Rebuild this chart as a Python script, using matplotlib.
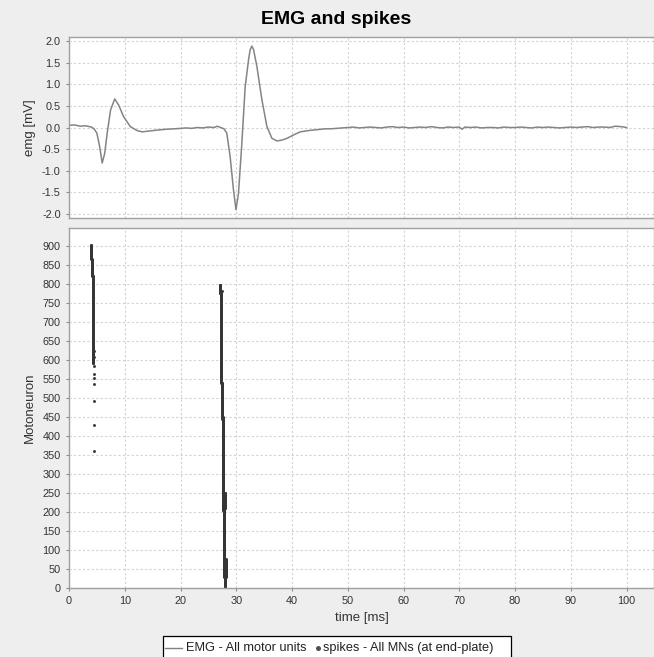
import numpy as np
import matplotlib
matplotlib.use("Agg")
import matplotlib.pyplot as plt
from matplotlib.lines import Line2D
from matplotlib.patches import Rectangle

# ---------------- data ----------------
emg_t = [0, 1, 2, 3, 4, 4.5, 5.0, 5.5, 5.95, 6.4, 6.85, 7.45, 8.2, 8.9, 9.8,
         11.0, 12.2, 13.1, 14.5, 15.8, 17.5, 19, 20, 21, 22, 23, 24, 25, 26,
         26.6, 27.2, 27.8, 28.3, 28.9, 29.5, 29.95, 30.4, 31.0, 31.6, 32.2,
         32.5, 32.8, 33.1, 33.7, 34.6, 35.5, 36.4, 37.3, 38.2, 39.1, 40.3,
         41.5, 43, 44.5, 46, 47, 48, 49, 50, 51, 52, 53, 54, 55, 56, 57, 58,
         59, 60, 61, 62, 63, 64, 65, 66, 67, 68, 69, 70, 70.5, 71, 72, 73, 74,
         75, 76, 77, 78, 79, 80, 81, 82, 83, 84, 85, 86, 87, 88, 89, 90, 91,
         92, 93, 94, 95, 96, 97, 98, 99, 100]
emg_v = [0.05, 0.06, 0.03, 0.04, 0.01, -0.03, -0.13, -0.44, -0.82, -0.60,
         -0.13, 0.40, 0.66, 0.52, 0.25, 0.02, -0.07, -0.10, -0.08, -0.06,
         -0.04, -0.03, -0.02, -0.01, -0.02, 0.0, -0.01, 0.01, 0.0, 0.03, 0.0,
         -0.03, -0.13, -0.67, -1.44, -1.90, -1.52, -0.37, 0.94, 1.56, 1.80,
         1.88, 1.80, 1.41, 0.64, 0.02, -0.25, -0.31, -0.29, -0.25, -0.17,
         -0.10, -0.07, -0.05, -0.03, -0.03, -0.02, -0.01, 0.0, 0.01, -0.01,
         0.0, 0.01, 0.0, -0.01, 0.01, 0.02, 0.0, 0.01, -0.01, 0.0, 0.01, 0.0,
         0.02, 0.0, -0.01, 0.01, 0.0, 0.01, -0.04, 0.01, 0.0, 0.01, -0.01,
         0.0, 0.0, -0.01, 0.01, 0.0, 0.0, 0.01, 0.0, -0.01, 0.01, 0.0, 0.01,
         0.0, -0.01, 0.0, 0.01, 0.0, 0.01, 0.02, 0.0, 0.01, 0.01, 0.0, 0.03,
         0.02, 0.0]

# spike bursts: consecutive motoneuron ranges firing at a given time [ms]
seg_first = [866, 822, 632, 592, 540, 450, 385, 205, 30, 0, 776, 600, 210, 30]
seg_last = [902, 865, 821, 631, 775, 539, 449, 384, 204, 29, 798, 670, 250, 75]
seg_time = [3.9, 4.1, 4.3, 4.25, 27.2, 27.45, 27.55, 27.65, 27.87, 28.05,
            27.15, 27.35, 27.9, 28.1]
# isolated spikes
iso_time = [4.55, 4.55, 4.55, 4.55, 4.55, 4.55, 4.55, 4.4, 4.4, 27.4, 27.4]
iso_mn = [584, 562, 553, 536, 491, 428, 360, 607, 623, 782, 445]

x_ticks = [0, 10, 20, 30, 40, 50, 60, 70, 80, 90, 100]
emg_ticks = [-2.0, -1.5, -1.0, -0.5, 0.0, 0.5, 1.0, 1.5, 2.0]
mn_ticks = list(range(0, 901, 50))

legend_labels = ["EMG - All motor units", "spikes - All MNs (at end-plate)"]

# ---------------- figure ----------------
W, H = 654, 657
bg = "#eeeeee"
plt.rcParams['font.family'] = ['Liberation Sans', 'DejaVu Sans']
fig = plt.figure(figsize=(W / 100, H / 100), dpi=100, facecolor=bg)

L = 69 / W
R = 1.0
ax1 = fig.add_axes([L, 1 - 218 / H, R - L, 181 / H])
ax2 = fig.add_axes([L, 1 - 588 / H, R - L, 360 / H], sharex=ax1)

xmax = (W - 68.5) / 5.58
txt_col = "#333333"
lab_fs = 9.5
tick_fs = 7.8

grid_kw = dict(color="#d2d2d2", linestyle=(0, (2, 2)), linewidth=0.8)
for ax in (ax1, ax2):
    ax.set_facecolor("white")
    ax.set_axisbelow(True)
    ax.grid(True, **grid_kw)
    for s in ax.spines.values():
        s.set_color("#a0a0a0")
        s.set_linewidth(1.0)
    ax.tick_params(axis="both", length=2, width=0.8, color="#888888",
                   labelsize=tick_fs, labelcolor=txt_col, pad=4)
    ax.set_xlim(0, xmax)
    ax.set_xticks(x_ticks)

ax1.plot(emg_t, emg_v, color="#848484", linewidth=1.1)
ax1.set_ylim(-2.09, 2.09)
ax1.set_yticks(emg_ticks)
ax1.set_yticklabels([f"{v:.1f}" for v in emg_ticks])
ax1.set_ylabel("emg [mV]", fontsize=lab_fs, color=txt_col)
ax1.tick_params(axis="x", labelbottom=False, length=0)

sp_t = []
sp_n = []
for a, b, t in zip(seg_first, seg_last, seg_time):
    ids = np.arange(a, b + 1)
    sp_n.extend(ids)
    sp_t.extend([t] * len(ids))
sp_t.extend(iso_time)
sp_n.extend(iso_mn)
ax2.plot(sp_t, sp_n, linestyle="none", marker="o", markersize=2.1,
         markeredgewidth=0, color="#363636")
ax2.set_ylim(0, 947)
ax2.set_yticks(mn_ticks)
ax2.set_ylabel("Motoneuron", fontsize=lab_fs, color=txt_col)
ax2.set_xlabel("time [ms]", fontsize=lab_fs, color=txt_col)

aw = W * (R - L)
for ax in (ax1, ax2):
    ax.yaxis.label.set_va("center")
    ax.yaxis.set_label_coords((30 - 69) / aw, 0.5)
ax2.xaxis.label.set_va("center")
ax2.xaxis.set_label_coords(0.5, -(618 - 588) / 360)

fig.text(336 / W, 1 - 20 / H, "EMG and spikes", ha="center", va="center",
         fontsize=14, fontweight="bold", color="black")

# legend (drawn as a framed box below the plots)
leg_fs = 9.2
ly = 1 - 648 / H
fig.patches.append(Rectangle((163 / W, 1 - 662 / H), (511 - 163) / W,
                             (662 - 636) / H, transform=fig.transFigure,
                             facecolor="white", edgecolor="black",
                             linewidth=0.9, zorder=5))
fig.lines.append(Line2D([165 / W, 182 / W], [ly, ly], transform=fig.transFigure,
                        color="#808080", linewidth=1.0, zorder=6))
fig.text(186 / W, ly, legend_labels[0], ha="left", va="center",
         fontsize=leg_fs, color="#222222", zorder=6)
fig.lines.append(Line2D([318 / W], [ly], transform=fig.transFigure,
                        linestyle="none", marker="o", markersize=3.6,
                        markeredgewidth=0, color="#505050", zorder=6))
fig.text(323 / W, ly, legend_labels[1], ha="left", va="center",
         fontsize=leg_fs, color="#222222", zorder=6)

fig.savefig("out.png", dpi=100, facecolor=bg)
